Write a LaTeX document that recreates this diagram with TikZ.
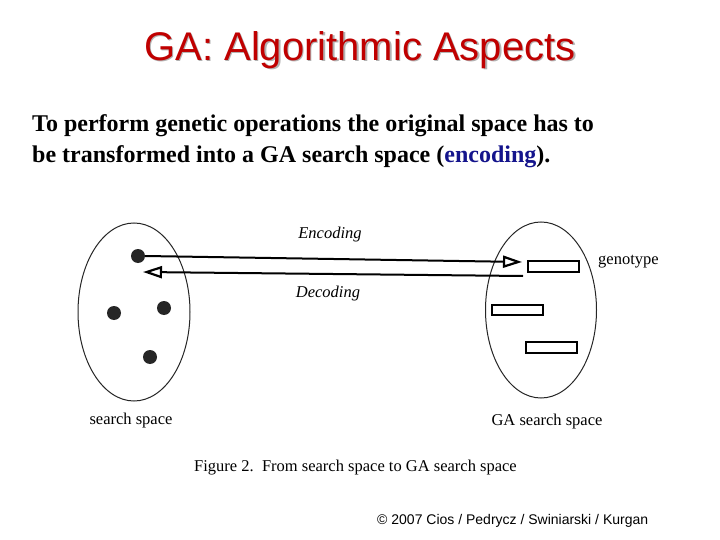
\documentclass[tikz,border=0pt]{standalone}
\usepackage{fontspec}
\setmainfont{Liberation Serif}
\newfontfamily\arialf{Liberation Sans}
\usetikzlibrary{arrows.meta,shapes.geometric}
\definecolor{titlered}{RGB}{192,0,0}
\definecolor{encblue}{RGB}{20,20,140}
\begin{document}
\begin{tikzpicture}[x=1pt,y=-1pt,
  space/.style={draw=black!85,line width=1pt},
  dot/.style={circle,fill=black!85,inner sep=0pt,minimum size=14pt},
  gene/.style={draw,line width=2.2pt,inner sep=0pt},
  lbl/.style={font=\fontsize{16.5}{19}\selectfont,inner sep=0pt},
  conn/.style={line width=2pt,-{Triangle[open,length=19pt,width=12pt,line width=2.2pt]}}]
\useasboundingbox (0,0) rectangle (720,540);
\fill[white] (0,0) rectangle (720,540);
% title
\node[text=black!30,font=\arialf\fontsize{40}{46}\selectfont] (tshadow) at (361.5,51.5) {GA: Algorithmic Aspects};
\node[text=titlered,font=\arialf\fontsize{40}{46}\selectfont] (title) at (360,50) {GA: Algorithmic Aspects};
% body text
\node[anchor=base west,inner sep=0pt,font=\bfseries\fontsize{24}{28}\selectfont] (l1) at (32,132) {To perform genetic operations the original space has to};
\node[anchor=base west,inner sep=0pt,font=\bfseries\fontsize{24}{28}\selectfont] (l2) at (32,163) {be transformed into a GA search space (\textcolor{encblue}{encoding}).};
% spaces
\node[space,ellipse,minimum width=112pt,minimum height=178pt,inner sep=0pt] (ss) at (134,312) {};
\node[space,ellipse,minimum width=111pt,minimum height=176pt,inner sep=0pt] (gs) at (541,310) {};
% dots
\node[dot] (d1) at (138,256) {};
\node[dot] (d2) at (114,313) {};
\node[dot] (d3) at (164,308) {};
\node[dot] (d4) at (150,357) {};
% genotypes
\node[gene,minimum width=51pt,minimum height=11pt] (g1) at (553.5,266.5) {};
\node[gene,minimum width=51pt,minimum height=10pt] (g2) at (517.5,310) {};
\node[gene,minimum width=51pt,minimum height=11pt] (g3) at (551.5,347.5) {};
% connectors
\coordinate (encend) at (522,262);
\coordinate (decstart) at (523,276);
\coordinate (decend) at (143,272);
\draw[conn] (d1.east) -- (encend);
\draw[conn] (decstart) -- (decend);
% labels
\node[lbl,font=\itshape\fontsize{16.5}{19}\selectfont] (enc) at (330,235) {Encoding};
\node[lbl,font=\itshape\fontsize{16.5}{19}\selectfont] (dec) at (328,294) {Decoding};
\node[lbl,anchor=west] (geno) at (598,262) {genotype};
\node[lbl] (sslbl) at (131,421) {search space};
\node[lbl] (gslbl) at (547,422) {GA search space};
\node[lbl,anchor=west] (cap) at (194,468) {Figure 2.\ \ From search space to GA search space};
% copyright
\node[anchor=west,inner sep=0pt,font=\arialf\fontsize{14}{16}\selectfont] (copy) at (377,521) {© 2007 Cios / Pedrycz / Swiniarski / Kurgan};
\end{tikzpicture}
\end{document}
